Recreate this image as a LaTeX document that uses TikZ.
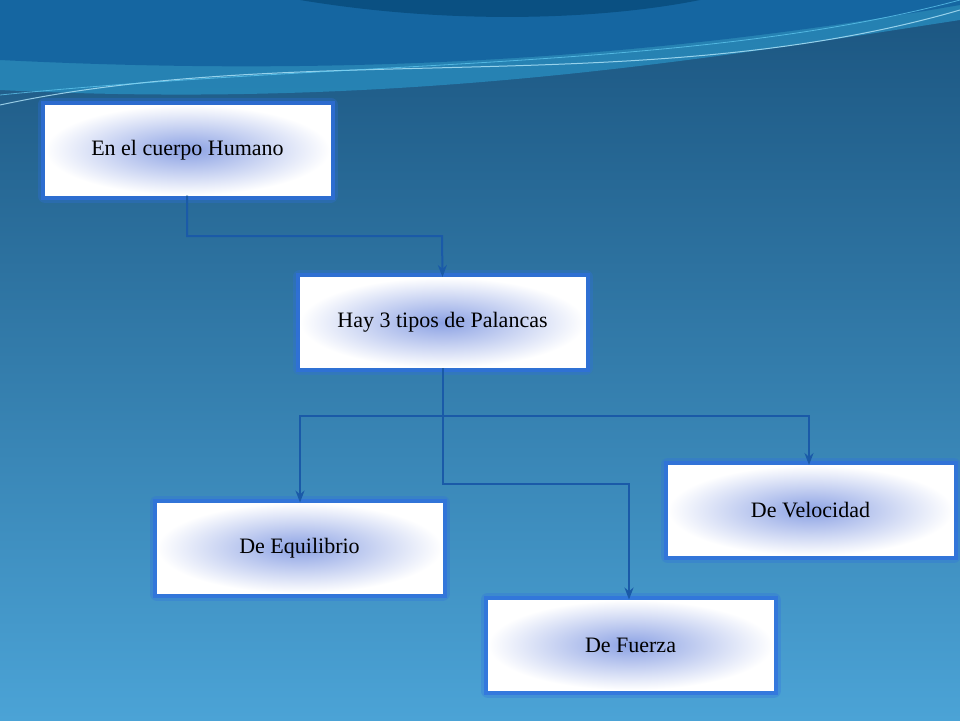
\documentclass[tikz,border=0pt]{standalone}
\usepackage{fontspec}
\setmainfont{Liberation Serif}
\usetikzlibrary{arrows.meta,backgrounds}
\pgfdeclarelayer{bg}
\pgfsetlayers{bg,background,main}
\definecolor{bgtop}{HTML}{1B5580}
\definecolor{bgbot}{HTML}{4BA3D6}
\definecolor{glow}{HTML}{2F6FE0}
\definecolor{inner}{HTML}{8CA2E4}
\definecolor{conn}{HTML}{1A5AA8}
\definecolor{waveA}{RGB}{40,140,190}
\definecolor{waveB}{RGB}{20,100,160}
\definecolor{waveC}{RGB}{10,80,130}
\tikzset{
 box/.style={minimum width=285pt,minimum height=90pt,inner sep=0pt,shading=radial,inner color=inner,outer color=white,draw=white,line width=1pt,font=\fontsize{22}{26}\selectfont},
 glowA/.style={draw=glow,line width=14pt,opacity=0.3,line join=round},
 glowB/.style={draw=glow,line width=8pt,opacity=0.7},
 conn/.style={draw=conn,line width=2pt,-{Stealth[length=12pt,width=9pt]}}
}
\begin{document}
\begin{tikzpicture}[x=1pt,y=-1pt]
\useasboundingbox (0,0) rectangle (960,720);
\begin{pgfonlayer}{bg}
\shade[top color=bgtop,bottom color=bgbot] (0,0) rectangle (960,720);
\fill[waveA,opacity=0.8] (0,0) -- (960,0) -- (960,20) .. controls (700,60) and (400,110) .. (0,90) -- cycle;
\fill[waveB,opacity=0.9] (0,0) -- (960,0) -- (960,5) .. controls (700,50) and (400,80) .. (0,60) -- cycle;
\fill[waveC] (300,0) -- (700,0) .. controls (600,20) and (450,25) .. (300,0) -- cycle;
\draw[white!70!cyan,line width=1pt,opacity=0.8] (0,105) .. controls (300,40) and (650,100) .. (960,10);
\draw[cyan!60!white,line width=0.8pt,opacity=0.7] (0,95) .. controls (350,60) and (700,70) .. (960,0);
\end{pgfonlayer}
\node[box] (a) at (187.5,150) {En el cuerpo Humano};
\node[box] (b) at (442.5,322.5) {Hay 3 tipos de Palancas};
\node[box] (c) at (299.5,548) {De Equilibrio};
\node[box] (d) at (810.5,510.5) {De Velocidad};
\node[box] (e) at (630.5,645) {De Fuerza};
\begin{scope}[on background layer]
\foreach \n in {a,b,c,d,e}{
  \draw[glowA] (\n.south west) rectangle (\n.north east);
  \draw[glowB] (\n.south west) rectangle (\n.north east);
}
\end{scope}
\draw[conn] (a.south -| 187,0) |- (442,236) -- (b.north);
\draw[conn] (b.south) |- (300,416) -- (c.north -| 300,0);
\draw[conn] (b.south) |- (809,416) -- (d.north -| 809,0);
\draw[conn] (b.south) |- (629,484) -- (e.north -| 629,0);
\end{tikzpicture}
\end{document}
